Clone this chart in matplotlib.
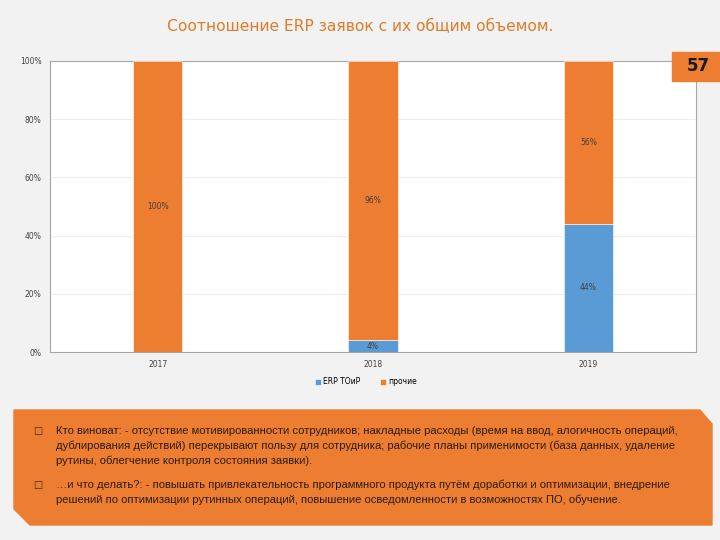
import matplotlib.pyplot as plt
from matplotlib.patches import Polygon, Rectangle

# ---------------- DATA ---------------- #
years = ["2017", "2018", "2019"]
erp_share = [0, 4, 44]
other_share = [100, 96, 56]
series_names = ["ERP ТОиР", "прочие"]
y_ticks = [0, 20, 40, 60, 80, 100]

title = "Соотношение ERP заявок с их общим объемом."
slide_no = "57"
notes = [
    ["Кто виноват: - отсутствие мотивированности сотрудников; накладные расходы (время на ввод, алогичность операций,",
     "дублирования действий) перекрывают пользу для сотрудника; рабочие планы применимости (база данных, удаление",
     "рутины, облегчение контроля состояния заявки)."],
    ["…и что делать?: - повышать привлекательность программного продукта путём доработки и оптимизации, внедрение",
     "решений по оптимизации рутинных операций, повышение осведомленности в возможностях ПО, обучение."],
]

BLUE = "#5B9BD5"
ORANGE = "#ED7D31"
BG = "#F2F2F2"
W, H = 720, 540


def fx(px):
    return px / W


def fy(py):
    return 1 - py / H


fig = plt.figure(figsize=(7.2, 5.4), dpi=100)
fig.patch.set_facecolor(BG)

# title
fig.text(0.5, fy(27), title, ha="center", va="center", fontsize=11.2,
         color="#E07B2A", family="DejaVu Sans")

# ---------------- CHART ---------------- #
ax = fig.add_axes([fx(50), fy(352), fx(696 - 50), (352 - 61) / H])
ax.set_facecolor("white")
x = range(len(years))
bw = 0.23
ax.bar(x, erp_share, bw, color=BLUE, label=series_names[0], zorder=3,
       edgecolor="white", linewidth=0.4)
ax.bar(x, other_share, bw, bottom=erp_share, color=ORANGE,
       label=series_names[1], zorder=3, edgecolor="white", linewidth=0.4)

for i in x:
    if erp_share[i] > 0:
        ax.text(i, erp_share[i] / 2, f"{erp_share[i]}%", ha="center",
                va="center", fontsize=5.5, color="#404040", zorder=4)
    ax.text(i, erp_share[i] + other_share[i] / 2, f"{other_share[i]}%",
            ha="center", va="center", fontsize=5.5, color="#404040", zorder=4)

ax.set_xlim(-0.5, len(years) - 0.5)
ax.set_ylim(0, 100)
ax.set_xticks(list(x))
ax.set_xticklabels(years, fontsize=5.5, color="#404040")
ax.set_yticks(y_ticks)
ax.set_yticklabels([f"{t}%" for t in y_ticks], fontsize=5.5, color="#404040")
ax.tick_params(length=0, pad=6)
ax.grid(axis="y", color="#EDEDED", linewidth=0.8, zorder=0)
for s in ax.spines.values():
    s.set_color("#A6A6A6")
    s.set_linewidth(0.8)

fig.legend(loc="center", bbox_to_anchor=(fx(366), fy(382)), ncol=2,
           fontsize=5.5, frameon=False, handlelength=0.8, handleheight=0.8,
           columnspacing=2.5, handletextpad=0.3)

# slide number badge
fig.patches.append(Rectangle((fx(672), fy(81)), fx(48), (81 - 52) / H,
                             transform=fig.transFigure, color=ORANGE, zorder=5))
fig.text(fx(698), fy(66), slide_no, ha="center", va="center", fontsize=12,
         weight="bold", color="#1a1a1a", zorder=6)

# ---------------- NOTES BOX ---------------- #
pts = [(14, 410), (700, 410), (712, 424), (712, 525), (30, 525), (14, 509)]
fig.patches.append(Polygon([(fx(a), fy(b)) for a, b in pts], closed=True,
                           transform=fig.transFigure, color=ORANGE, zorder=1))

y = 431
for block in notes:
    fig.text(fx(33), fy(y), "□", ha="left", va="center", fontsize=7,
             color="#3a2a1a", family="DejaVu Sans")
    for line in block:
        fig.text(fx(56), fy(y), line, ha="left", va="center", fontsize=8.1,
                 color="#2b1d10", family="Liberation Sans")
        y += 15
    y += 9

fig.savefig("out.png", dpi=100, facecolor=BG)
